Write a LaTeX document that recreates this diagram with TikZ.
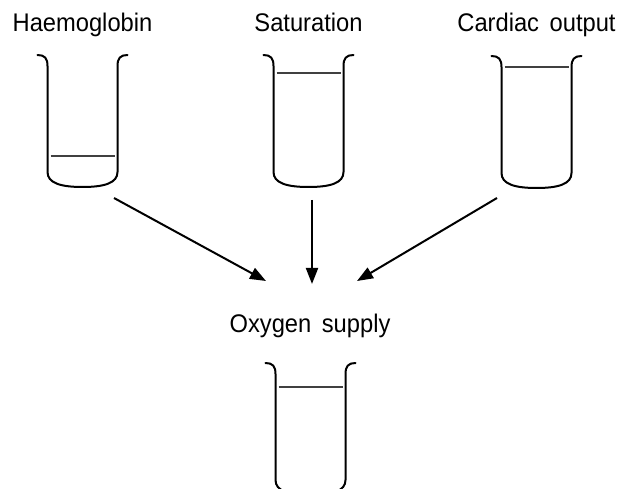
\documentclass[tikz,border=0pt]{standalone}
\usepackage{fontspec}
\setmainfont[FakeStretch=0.93, WordSpace=1.6]{Liberation Sans}
\usetikzlibrary{arrows.meta}

\tikzset{
  wall/.style={line width=2pt, line cap=round, line join=round},
  level/.style={line width=1.1pt, black!75},
  caption/.style={anchor=base, inner sep=0pt, font=\fontsize{25.5}{30}\selectfont},
  flow/.style={line width=2pt, -{Triangle[length=16pt, width=12pt]}},
  % beaker drawn from the middle of its rim; the argument is the liquid depth below the rim
  pics/beaker/.style={code={
    \draw[wall] (-45,0) .. controls (-38,0) and (-35,3) .. (-35,11)
      -- (-35,117) .. controls (-35,128) and (-22,132) .. (0,132)
      .. controls (22,132) and (35,128) .. (35,117)
      -- (35,11) .. controls (35,3) and (38,0) .. (45,0);
    \draw[level] (-32,#1) -- (32,#1);
  }}
}

\begin{document}
\begin{tikzpicture}[x=1pt, y=-1pt]
  \useasboundingbox (0,0) rectangle (624,489);
  \clip (0,0) rectangle (624,489);

  % the three inputs
  \node[caption] (hb)  at (82.5,32)  {Haemoglobin};
  \node[caption] (sat) at (308.5,32) {Saturation};
  \node[caption] (co)  at (536.5,32) {Cardiac output};

  \pic at (82.5,55)  {beaker=101};
  \pic at (308.5,55) {beaker=18};
  \pic at (536.5,56) {beaker=11};

  % the result
  \node[caption] (o2) at (310,332) {Oxygen supply};
  \pic at (310.5,363) {beaker=24};

  % arrow end points
  \coordinate (hbOut)  at (114,198);
  \coordinate (satOut) at (312,200);
  \coordinate (coOut)  at (497,198);
  \coordinate (o2InL)  at (266,281);
  \coordinate (o2InM)  at (312,284);
  \coordinate (o2InR)  at (357,281);

  \draw[flow] (hbOut)  -- (o2InL);
  \draw[flow] (satOut) -- (o2InM);
  \draw[flow] (coOut)  -- (o2InR);
\end{tikzpicture}
\end{document}
